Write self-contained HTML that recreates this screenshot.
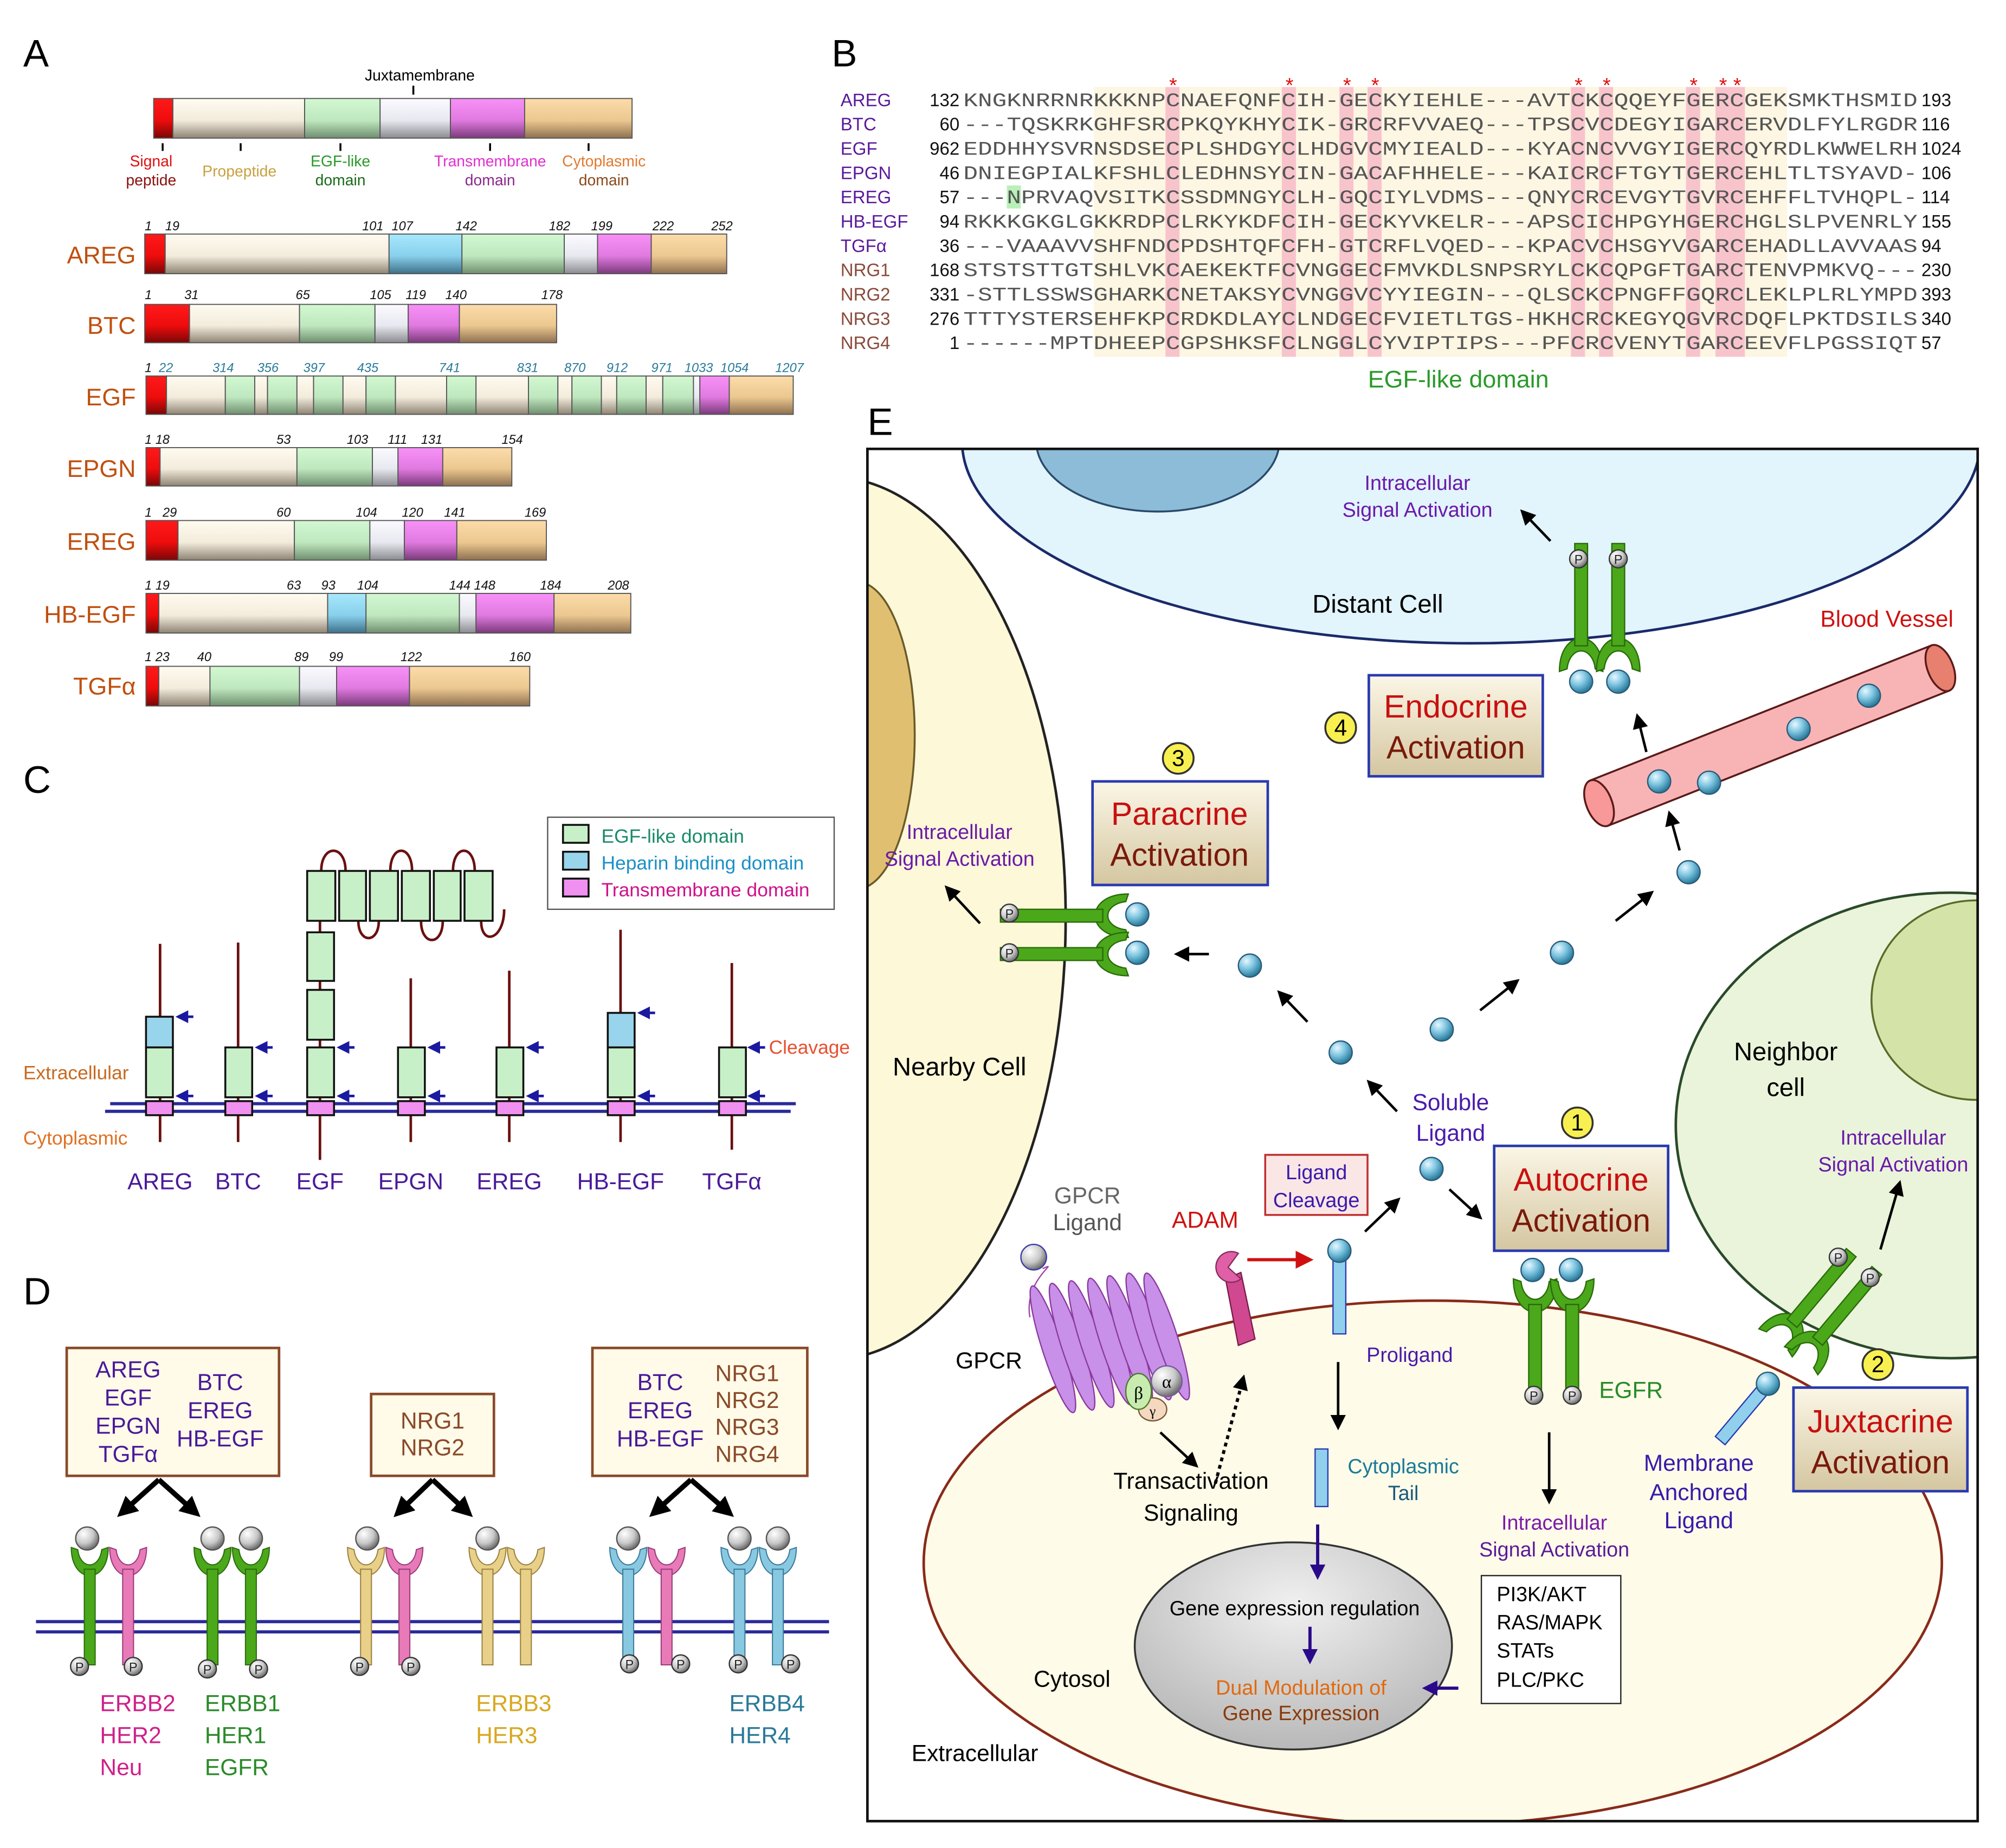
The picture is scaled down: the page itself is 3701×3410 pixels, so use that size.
<!DOCTYPE html>
<html><head><meta charset="utf-8"><style>html,body{margin:0;padding:0;background:#fff}svg{display:block}</style></head>
<body>
<svg xmlns="http://www.w3.org/2000/svg" width="3701" height="3410" viewBox="0 0 1568 1445" font-family="Liberation Sans, Arial, sans-serif">
<defs>
<linearGradient id="gR" x1="0" y1="0" x2="0" y2="1"><stop offset="0" stop-color="#ff1a1a"/><stop offset=".55" stop-color="#ee0c0c"/><stop offset="1" stop-color="#7a0606"/></linearGradient>
<linearGradient id="gP" x1="0" y1="0" x2="0" y2="1"><stop offset="0" stop-color="#fffbf0"/><stop offset=".55" stop-color="#f3ecdc"/><stop offset="1" stop-color="#8e8474"/></linearGradient>
<linearGradient id="gG" x1="0" y1="0" x2="0" y2="1"><stop offset="0" stop-color="#d2f8d2"/><stop offset=".55" stop-color="#bfe8bf"/><stop offset="1" stop-color="#6f8e6f"/></linearGradient>
<linearGradient id="gW" x1="0" y1="0" x2="0" y2="1"><stop offset="0" stop-color="#fafaff"/><stop offset=".55" stop-color="#e8e8f0"/><stop offset="1" stop-color="#8a8a90"/></linearGradient>
<linearGradient id="gM" x1="0" y1="0" x2="0" y2="1"><stop offset="0" stop-color="#f890f8"/><stop offset=".55" stop-color="#e07ae0"/><stop offset="1" stop-color="#7a3a7a"/></linearGradient>
<linearGradient id="gT" x1="0" y1="0" x2="0" y2="1"><stop offset="0" stop-color="#fcdcaa"/><stop offset=".55" stop-color="#ecc890"/><stop offset="1" stop-color="#8e7050"/></linearGradient>
<linearGradient id="gB" x1="0" y1="0" x2="0" y2="1"><stop offset="0" stop-color="#a8e8fc"/><stop offset=".55" stop-color="#88d0ec"/><stop offset="1" stop-color="#3e7088"/></linearGradient>
<linearGradient id="gBox" x1="0" y1="0" x2="0" y2="1"><stop offset="0" stop-color="#fbf6e6"/><stop offset="1" stop-color="#d4c6a0"/></linearGradient>
<radialGradient id="gBall" cx=".35" cy=".3" r=".7"><stop offset="0" stop-color="#e8f8ff"/><stop offset=".5" stop-color="#7cc4e0"/><stop offset="1" stop-color="#2a7a9a"/></radialGradient>
<radialGradient id="gGray" cx=".35" cy=".3" r=".7"><stop offset="0" stop-color="#ffffff"/><stop offset=".6" stop-color="#c8c8c8"/><stop offset="1" stop-color="#707070"/></radialGradient>
<radialGradient id="gNuc" cx=".5" cy=".3" r=".7"><stop offset="0" stop-color="#f0f0f0"/><stop offset="1" stop-color="#b8b8b8"/></radialGradient>
<marker id="ak" viewBox="0 0 10 10" refX="8" refY="5" markerWidth="12" markerHeight="12" markerUnits="userSpaceOnUse" orient="auto"><path d="M0,0 L10,5 L0,10 Z" fill="#000"/></marker>
<marker id="ab" viewBox="0 0 10 10" refX="8" refY="5" markerWidth="10" markerHeight="10" markerUnits="userSpaceOnUse" orient="auto"><path d="M0,0 L10,5 L0,10 Z" fill="#1a1aa0"/></marker>
<marker id="an" viewBox="0 0 10 10" refX="8" refY="5" markerWidth="12" markerHeight="12" markerUnits="userSpaceOnUse" orient="auto"><path d="M0,0 L10,5 L0,10 Z" fill="#2a0a8a"/></marker>
<marker id="ar" viewBox="0 0 10 10" refX="8" refY="5" markerWidth="14" markerHeight="14" markerUnits="userSpaceOnUse" orient="auto"><path d="M0,0 L10,5 L0,10 Z" fill="#d01010"/></marker>
<marker id="aD" viewBox="0 0 10 10" refX="7" refY="5" markerWidth="16" markerHeight="16" markerUnits="userSpaceOnUse" orient="auto"><path d="M0,0 L10,5 L0,10 Z" fill="#000"/></marker>
<g id="cupG"><path d="M-17,0 C-17,18 -8,26 0,26 C8,26 17,18 17,0 L11,2 C10,11 5,16 0,16 C-5,16 -10,11 -11,2 Z" fill="#4aa81a" stroke="#2a6a0a" stroke-width="1"/></g>
<g id="P"><circle r="7" fill="url(#gGray)" stroke="#333" stroke-width="1"/><text y="4" text-anchor="middle" font-size="10" fill="#222">P</text></g>
</defs>

<rect width="1568" height="1445" fill="#fff"/>

<!-- ===== Panel A ===== -->
<text x="18" y="52" font-size="30">A</text>
<text x="328" y="63" font-size="12" text-anchor="middle">Juxtamembrane</text>
<line x1="323" y1="67" x2="323" y2="74" stroke="#000" stroke-width="1.5"/>
<g stroke="#555" stroke-width="0.8">
<rect x="120" y="77" width="15" height="31" fill="url(#gR)"/><rect x="135" y="77" width="103" height="31" fill="url(#gP)"/><rect x="238" y="77" width="59" height="31" fill="url(#gG)"/><rect x="297" y="77" width="55" height="31" fill="url(#gW)"/><rect x="352" y="77" width="58" height="31" fill="url(#gM)"/><rect x="410" y="77" width="84" height="31" fill="url(#gT)"/>
</g>
<g stroke="#000" stroke-width="1.5"><line x1="127" y1="112" x2="127" y2="118"/><line x1="188" y1="112" x2="188" y2="118"/><line x1="266" y1="112" x2="266" y2="118"/><line x1="383" y1="112" x2="383" y2="118"/><line x1="460" y1="112" x2="460" y2="118"/></g>
<g font-size="12" text-anchor="middle">
<text x="118" y="130" fill="#e01010">Signal</text><text x="118" y="145" fill="#8a1010">peptide</text>
<text x="187" y="138" fill="#c8a040">Propeptide</text>
<text x="266" y="130" fill="#2a9a2a">EGF-like</text><text x="266" y="145" fill="#1a6a1a">domain</text>
<text x="383" y="130" fill="#e030d0">Transmembrane</text><text x="383" y="145" fill="#8a2a8a">domain</text>
<text x="472" y="130" fill="#e07a30">Cytoplasmic</text><text x="472" y="145" fill="#8a4a1a">domain</text>
</g>
<g font-size="19" fill="#c0500f" text-anchor="end">
<text x="106" y="206">AREG</text><text x="106" y="261">BTC</text><text x="106" y="317">EGF</text><text x="106" y="373">EPGN</text><text x="106" y="430">EREG</text><text x="106" y="487">HB-EGF</text><text x="106" y="543">TGFα</text>
</g>
<g stroke="#555" stroke-width="0.8">
<!-- AREG -->
<rect x="113" y="183" width="16" height="31" fill="url(#gR)"/><rect x="129" y="183" width="175" height="31" fill="url(#gP)"/><rect x="304" y="183" width="57" height="31" fill="url(#gB)"/><rect x="361" y="183" width="80" height="31" fill="url(#gG)"/><rect x="441" y="183" width="26" height="31" fill="url(#gW)"/><rect x="467" y="183" width="42" height="31" fill="url(#gM)"/><rect x="509" y="183" width="59" height="31" fill="url(#gT)"/>
<!-- BTC -->
<rect x="113" y="238" width="35" height="30" fill="url(#gR)"/><rect x="148" y="238" width="86" height="30" fill="url(#gP)"/><rect x="234" y="238" width="59" height="30" fill="url(#gG)"/><rect x="293" y="238" width="26" height="30" fill="url(#gW)"/><rect x="319" y="238" width="40" height="30" fill="url(#gM)"/><rect x="359" y="238" width="76" height="30" fill="url(#gT)"/>
<!-- EGF -->
<rect x="114" y="294" width="16" height="30" fill="url(#gR)"/>
<rect x="130" y="294" width="46" height="30" fill="url(#gP)"/><rect x="176" y="294" width="23" height="30" fill="url(#gG)"/><rect x="199" y="294" width="10" height="30" fill="url(#gP)"/><rect x="209" y="294" width="23" height="30" fill="url(#gG)"/><rect x="232" y="294" width="13" height="30" fill="url(#gP)"/><rect x="245" y="294" width="23" height="30" fill="url(#gG)"/><rect x="268" y="294" width="18" height="30" fill="url(#gP)"/><rect x="286" y="294" width="23" height="30" fill="url(#gG)"/><rect x="309" y="294" width="40" height="30" fill="url(#gP)"/><rect x="349" y="294" width="23" height="30" fill="url(#gG)"/><rect x="372" y="294" width="41" height="30" fill="url(#gP)"/><rect x="413" y="294" width="23" height="30" fill="url(#gG)"/><rect x="436" y="294" width="11" height="30" fill="url(#gP)"/><rect x="447" y="294" width="23" height="30" fill="url(#gG)"/><rect x="470" y="294" width="12" height="30" fill="url(#gP)"/><rect x="482" y="294" width="23" height="30" fill="url(#gG)"/><rect x="505" y="294" width="13" height="30" fill="url(#gP)"/><rect x="518" y="294" width="24" height="30" fill="url(#gG)"/><rect x="542" y="294" width="5" height="30" fill="url(#gW)"/><rect x="547" y="294" width="23" height="30" fill="url(#gM)"/><rect x="570" y="294" width="50" height="30" fill="url(#gT)"/>
<!-- EPGN -->
<rect x="114" y="350" width="11" height="30" fill="url(#gR)"/><rect x="125" y="350" width="107" height="30" fill="url(#gP)"/><rect x="232" y="350" width="59" height="30" fill="url(#gG)"/><rect x="291" y="350" width="20" height="30" fill="url(#gW)"/><rect x="311" y="350" width="35" height="30" fill="url(#gM)"/><rect x="346" y="350" width="54" height="30" fill="url(#gT)"/>
<!-- EREG -->
<rect x="114" y="407" width="25" height="31" fill="url(#gR)"/><rect x="139" y="407" width="91" height="31" fill="url(#gP)"/><rect x="230" y="407" width="59" height="31" fill="url(#gG)"/><rect x="289" y="407" width="27" height="31" fill="url(#gW)"/><rect x="316" y="407" width="41" height="31" fill="url(#gM)"/><rect x="357" y="407" width="70" height="31" fill="url(#gT)"/>
<!-- HB-EGF -->
<rect x="114" y="464" width="10" height="31" fill="url(#gR)"/><rect x="124" y="464" width="132" height="31" fill="url(#gP)"/><rect x="256" y="464" width="30" height="31" fill="url(#gB)"/><rect x="286" y="464" width="73" height="31" fill="url(#gG)"/><rect x="359" y="464" width="13" height="31" fill="url(#gW)"/><rect x="372" y="464" width="61" height="31" fill="url(#gM)"/><rect x="433" y="464" width="60" height="31" fill="url(#gT)"/>
<!-- TGFa -->
<rect x="114" y="521" width="10" height="31" fill="url(#gR)"/><rect x="124" y="521" width="40" height="31" fill="url(#gP)"/><rect x="164" y="521" width="70" height="31" fill="url(#gG)"/><rect x="234" y="521" width="29" height="31" fill="url(#gW)"/><rect x="263" y="521" width="57" height="31" fill="url(#gM)"/><rect x="320" y="521" width="94" height="31" fill="url(#gT)"/>
</g>
<g font-size="10" font-style="italic" fill="#111">
<text x="113" y="180">1</text><text x="129" y="180">19</text><text x="283" y="180">101</text><text x="306" y="180">107</text><text x="356" y="180">142</text><text x="429" y="180">182</text><text x="462" y="180">199</text><text x="510" y="180">222</text><text x="556" y="180">252</text>
<text x="113" y="234">1</text><text x="144" y="234">31</text><text x="231" y="234">65</text><text x="289" y="234">105</text><text x="317" y="234">119</text><text x="348" y="234">140</text><text x="423" y="234">178</text>
<g fill="#2a7a9a"><text x="113" y="291" fill="#111">1</text><text x="124" y="291">22</text><text x="166" y="291">314</text><text x="201" y="291">356</text><text x="237" y="291">397</text><text x="279" y="291">435</text><text x="343" y="291">741</text><text x="404" y="291">831</text><text x="441" y="291">870</text><text x="474" y="291">912</text><text x="509" y="291">971</text><text x="535" y="291">1033</text><text x="563" y="291">1054</text><text x="606" y="291">1207</text></g>
<text x="113" y="347">1 18</text><text x="216" y="347">53</text><text x="271" y="347">103</text><text x="303" y="347">111</text><text x="329" y="347">131</text><text x="392" y="347">154</text>
<text x="113" y="404">1</text><text x="127" y="404">29</text><text x="216" y="404">60</text><text x="278" y="404">104</text><text x="314" y="404">120</text><text x="347" y="404">141</text><text x="410" y="404">169</text>
<text x="113" y="461">1 19</text><text x="224" y="461">63</text><text x="251" y="461">93</text><text x="279" y="461">104</text><text x="351" y="461">144 148</text><text x="422" y="461">184</text><text x="475" y="461">208</text>
<text x="113" y="517">1 23</text><text x="154" y="517">40</text><text x="230" y="517">89</text><text x="257" y="517">99</text><text x="313" y="517">122</text><text x="398" y="517">160</text>
</g>

<!-- ===== Panel B ===== -->
<text x="650" y="52" font-size="30">B</text>
<rect x="855" y="68" width="542" height="211" fill="#fcf6e2"/>
<g fill="#f8c4cc">
<rect x="911" y="68" width="11" height="211"/><rect x="1002" y="68" width="11" height="211"/><rect x="1047" y="68" width="11" height="211"/><rect x="1069" y="68" width="11" height="211"/><rect x="1228" y="68" width="11" height="211"/><rect x="1250" y="68" width="11" height="211"/><rect x="1318" y="68" width="11" height="211"/><rect x="1341" y="68" width="23" height="211"/>
</g>
<rect x="787" y="145" width="11" height="18" fill="#b8f0b8"/>
<g fill="#e01010" font-size="16" text-anchor="middle">
<text x="917" y="72">*</text><text x="1008" y="72">*</text><text x="1053" y="72">*</text><text x="1075" y="72">*</text><text x="1234" y="72">*</text><text x="1256" y="72">*</text><text x="1324" y="72">*</text><text x="1347" y="72">*</text><text x="1358" y="72">*</text>
</g>
<g font-size="14">
<g fill="#5a1a9a"><text x="657" y="83">AREG</text><text x="657" y="102">BTC</text><text x="657" y="121">EGF</text><text x="657" y="140">EPGN</text><text x="657" y="159">EREG</text><text x="657" y="178">HB-EGF</text><text x="657" y="197">TGFα</text></g>
<g fill="#8a4a3a"><text x="657" y="216">NRG1</text><text x="657" y="235">NRG2</text><text x="657" y="254">NRG3</text><text x="657" y="273">NRG4</text></g>
<g text-anchor="end" fill="#111"><text x="750" y="83">132</text><text x="750" y="102">60</text><text x="750" y="121">962</text><text x="750" y="140">46</text><text x="750" y="159">57</text><text x="750" y="178">94</text><text x="750" y="197">36</text><text x="750" y="216">168</text><text x="750" y="235">331</text><text x="750" y="254">276</text><text x="750" y="273">1</text></g>
<g fill="#111"><text x="1502" y="83">193</text><text x="1502" y="102">116</text><text x="1502" y="121">1024</text><text x="1502" y="140">106</text><text x="1502" y="159">114</text><text x="1502" y="178">155</text><text x="1502" y="197">94</text><text x="1502" y="216">230</text><text x="1502" y="235">393</text><text x="1502" y="254">340</text><text x="1502" y="273">57</text></g>
</g>
<g font-family="Liberation Mono, monospace" font-size="15" fill="#555">
<text x="753" y="83" textLength="746" lengthAdjust="spacingAndGlyphs">KNGKNRRNRKKKNPCNAEFQNFCIH-GECKYIEHLE---AVTCKCQQEYFGERCGEKSMKTHSMID</text>
<text x="753" y="102" textLength="746" lengthAdjust="spacingAndGlyphs">---TQSKRKGHFSRCPKQYKHYCIK-GRCRFVVAEQ---TPSCVCDEGYIGARCERVDLFYLRGDR</text>
<text x="753" y="121" textLength="746" lengthAdjust="spacingAndGlyphs">EDDHHYSVRNSDSECPLSHDGYCLHDGVCMYIEALD---KYACNCVVGYIGERCQYRDLKWWELRH</text>
<text x="753" y="140" textLength="746" lengthAdjust="spacingAndGlyphs">DNIEGPIALKFSHLCLEDHNSYCIN-GACAFHHELE---KAICRCFTGYTGERCEHLTLTSYAVD-</text>
<text x="753" y="159" textLength="746" lengthAdjust="spacingAndGlyphs">---NPRVAQVSITKCSSDMNGYCLH-GQCIYLVDMS---QNYCRCEVGYTGVRCEHFFLTVHQPL-</text>
<text x="753" y="178" textLength="746" lengthAdjust="spacingAndGlyphs">RKKKGKGLGKKRDPCLRKYKDFCIH-GECKYVKELR---APSCICHPGYHGERCHGLSLPVENRLY</text>
<text x="753" y="197" textLength="746" lengthAdjust="spacingAndGlyphs">---VAAAVVSHFNDCPDSHTQFCFH-GTCRFLVQED---KPACVCHSGYVGARCEHADLLAVVAAS</text>
<text x="753" y="216" textLength="746" lengthAdjust="spacingAndGlyphs">STSTSTTGTSHLVKCAEKEKTFCVNGGECFMVKDLSNPSRYLCKCQPGFTGARCTENVPMKVQ---</text>
<text x="753" y="235" textLength="746" lengthAdjust="spacingAndGlyphs">-STTLSSWSGHARKCNETAKSYCVNGGVCYYIEGIN---QLSCKCPNGFFGQRCLEKLPLRLYMPD</text>
<text x="753" y="254" textLength="746" lengthAdjust="spacingAndGlyphs">TTTYSTERSEHFKPCRDKDLAYCLNDGECFVIETLTGS-HKHCRCKEGYQGVRCDQFLPKTDSILS</text>
<text x="753" y="273" textLength="746" lengthAdjust="spacingAndGlyphs">------MPTDHEEPCGPSHKSFCLNGGLCYVIPTIPS---PFCRCVENYTGARCEEVFLPGSSIQT</text>
</g>
<text x="1140" y="303" font-size="19" fill="#2a9a2a" text-anchor="middle">EGF-like domain</text>

<!-- ===== Panel C ===== -->
<text x="18" y="620" font-size="30">C</text>
<rect x="428" y="639" width="224" height="72" fill="#fff" stroke="#555" stroke-width="1"/>
<rect x="440" y="645" width="20" height="14" fill="#c8f0c8" stroke="#111" stroke-width="1.5"/>
<rect x="440" y="666" width="20" height="14" fill="#98d4ec" stroke="#111" stroke-width="1.5"/>
<rect x="440" y="687" width="20" height="14" fill="#f090f0" stroke="#111" stroke-width="1.5"/>
<text x="470" y="659" font-size="15" fill="#1a8a6a">EGF-like domain</text>
<text x="470" y="680" font-size="15" fill="#1a90c8">Heparin binding domain</text>
<text x="470" y="701" font-size="15" fill="#d0108a">Transmembrane domain</text>
<g stroke="#6a1010" stroke-width="2" fill="none">
<line x1="125" y1="738" x2="125" y2="893"/><line x1="186" y1="737" x2="186" y2="893"/><line x1="250" y1="720" x2="250" y2="907"/><line x1="321" y1="765" x2="321" y2="893"/><line x1="398" y1="759" x2="398" y2="893"/><line x1="485" y1="727" x2="485" y2="893"/><line x1="572" y1="753" x2="572" y2="899"/>
<path d="M251,681 C251,660 270,660 270,681"/><path d="M305,681 C305,660 322,660 322,681"/><path d="M354,681 C354,660 371,660 371,681"/>
<path d="M280,720 C280,738 296,738 296,720"/><path d="M329,720 C329,740 346,740 346,720"/><path d="M376,720 C376,740 394,735 394,711"/>
</g>
<g stroke="#2a2a9a" stroke-width="2.5"><line x1="86" y1="863" x2="622" y2="863"/><line x1="82" y1="869" x2="618" y2="869"/></g>
<g stroke="#111" stroke-width="1.5">
<rect x="114" y="795" width="21" height="24" fill="#98d4ec"/><rect x="114" y="819" width="21" height="39" fill="#c8f0c8"/>
<rect x="176" y="819" width="21" height="39" fill="#c8f0c8"/>
<rect x="240" y="819" width="21" height="39" fill="#c8f0c8"/><rect x="240" y="774" width="21" height="39" fill="#c8f0c8"/><rect x="240" y="729" width="21" height="38" fill="#c8f0c8"/>
<rect x="240" y="681" width="22" height="39" fill="#c8f0c8"/><rect x="265" y="681" width="21" height="39" fill="#c8f0c8"/><rect x="289" y="681" width="22" height="39" fill="#c8f0c8"/><rect x="314" y="681" width="22" height="39" fill="#c8f0c8"/><rect x="339" y="681" width="21" height="39" fill="#c8f0c8"/><rect x="363" y="681" width="22" height="39" fill="#c8f0c8"/>
<rect x="311" y="819" width="21" height="39" fill="#c8f0c8"/>
<rect x="388" y="819" width="21" height="39" fill="#c8f0c8"/>
<rect x="475" y="792" width="21" height="27" fill="#98d4ec"/><rect x="475" y="819" width="21" height="39" fill="#c8f0c8"/>
<rect x="562" y="819" width="21" height="39" fill="#c8f0c8"/>
<g fill="#f090f0"><rect x="114" y="861" width="21" height="11"/><rect x="176" y="861" width="21" height="11"/><rect x="240" y="861" width="21" height="11"/><rect x="311" y="861" width="21" height="11"/><rect x="388" y="861" width="21" height="11"/><rect x="475" y="861" width="21" height="11"/><rect x="562" y="861" width="21" height="11"/></g>
</g>
<g stroke="#1a1aa0" stroke-width="2" marker-end="url(#ab)">
<line x1="151" y1="795" x2="139" y2="795"/><line x1="151" y1="857" x2="139" y2="857"/>
<line x1="213" y1="819" x2="201" y2="819"/><line x1="213" y1="857" x2="201" y2="857"/>
<line x1="277" y1="819" x2="265" y2="819"/><line x1="277" y1="857" x2="265" y2="857"/>
<line x1="348" y1="819" x2="336" y2="819"/><line x1="348" y1="857" x2="336" y2="857"/>
<line x1="425" y1="819" x2="413" y2="819"/><line x1="425" y1="857" x2="413" y2="857"/>
<line x1="512" y1="792" x2="500" y2="792"/><line x1="512" y1="857" x2="500" y2="857"/>
<line x1="598" y1="819" x2="586" y2="819"/><line x1="598" y1="857" x2="586" y2="857"/>
</g>
<text x="601" y="824" font-size="15" fill="#e85030">Cleavage</text>
<text x="18" y="844" font-size="15" fill="#c86a20">Extracellular</text>
<text x="18" y="895" font-size="15" fill="#e07020">Cytoplasmic</text>
<g font-size="18" fill="#4a1a9a" text-anchor="middle">
<text x="125" y="930">AREG</text><text x="186" y="930">BTC</text><text x="250" y="930">EGF</text><text x="321" y="930">EPGN</text><text x="398" y="930">EREG</text><text x="485" y="930">HB-EGF</text><text x="572" y="930">TGFα</text>
</g>

<!-- ===== Panel D ===== -->
<text x="18" y="1020" font-size="30">D</text>
<g fill="#fffbe8" stroke="#8a4a2a" stroke-width="2">
<rect x="52" y="1054" width="166" height="100"/><rect x="290" y="1090" width="96" height="64"/><rect x="463" y="1054" width="168" height="100"/>
</g>
<g font-size="18" text-anchor="middle">
<g fill="#4a1a9a"><text x="100" y="1077">AREG</text><text x="100" y="1099">EGF</text><text x="100" y="1121">EPGN</text><text x="100" y="1143">TGFα</text>
<text x="172" y="1087">BTC</text><text x="172" y="1109">EREG</text><text x="172" y="1131">HB-EGF</text>
<text x="516" y="1087">BTC</text><text x="516" y="1109">EREG</text><text x="516" y="1131">HB-EGF</text></g>
<g fill="#8a4a2a"><text x="338" y="1117">NRG1</text><text x="338" y="1138">NRG2</text>
<text x="584" y="1080">NRG1</text><text x="584" y="1101">NRG2</text><text x="584" y="1122">NRG3</text><text x="584" y="1143">NRG4</text></g>
</g>
<g stroke="#000" stroke-width="4" marker-end="url(#aD)" fill="none">
<path d="M124,1157 L95,1183"/><path d="M124,1157 L153,1183"/>
<path d="M338,1157 L311,1183"/><path d="M338,1157 L366,1183"/>
<path d="M540,1157 L511,1183"/><path d="M540,1157 L570,1183"/>
</g>
<g stroke="#2a2a9a" stroke-width="2.5"><line x1="28" y1="1268" x2="648" y2="1268"/><line x1="28" y1="1276" x2="648" y2="1276"/></g>
<!-- receptors D -->
<g stroke-width="1">
<g transform="translate(70,1210) scale(0.85)"><path d="M-17,0 C-17,18 -8,26 0,26 C8,26 17,18 17,0 L11,2 C10,11 5,16 0,16 C-5,16 -10,11 -11,2 Z" fill="#4aa81a" stroke="#2a6a0a"/><rect x="-5" y="20" width="10" height="88" fill="#4aa81a" stroke="#2a6a0a"/></g>
<g transform="translate(100,1210) scale(0.85)"><path d="M-17,0 C-17,18 -8,26 0,26 C8,26 17,18 17,0 L11,2 C10,11 5,16 0,16 C-5,16 -10,11 -11,2 Z" fill="#e87ab8" stroke="#9a3a7a"/><rect x="-5" y="20" width="10" height="88" fill="#e87ab8" stroke="#9a3a7a"/></g>
<g transform="translate(166,1210) scale(0.85)"><path d="M-17,0 C-17,18 -8,26 0,26 C8,26 17,18 17,0 L11,2 C10,11 5,16 0,16 C-5,16 -10,11 -11,2 Z" fill="#4aa81a" stroke="#2a6a0a"/><rect x="-5" y="20" width="10" height="88" fill="#4aa81a" stroke="#2a6a0a"/></g>
<g transform="translate(196,1210) scale(0.85)"><path d="M-17,0 C-17,18 -8,26 0,26 C8,26 17,18 17,0 L11,2 C10,11 5,16 0,16 C-5,16 -10,11 -11,2 Z" fill="#4aa81a" stroke="#2a6a0a"/><rect x="-5" y="20" width="10" height="88" fill="#4aa81a" stroke="#2a6a0a"/></g>
<g transform="translate(286,1210) scale(0.85)"><path d="M-17,0 C-17,18 -8,26 0,26 C8,26 17,18 17,0 L11,2 C10,11 5,16 0,16 C-5,16 -10,11 -11,2 Z" fill="#e8d088" stroke="#9a8040"/><rect x="-5" y="20" width="10" height="88" fill="#e8d088" stroke="#9a8040"/></g>
<g transform="translate(316,1210) scale(0.85)"><path d="M-17,0 C-17,18 -8,26 0,26 C8,26 17,18 17,0 L11,2 C10,11 5,16 0,16 C-5,16 -10,11 -11,2 Z" fill="#e87ab8" stroke="#9a3a7a"/><rect x="-5" y="20" width="10" height="88" fill="#e87ab8" stroke="#9a3a7a"/></g>
<g transform="translate(381,1210) scale(0.85)"><path d="M-17,0 C-17,18 -8,26 0,26 C8,26 17,18 17,0 L11,2 C10,11 5,16 0,16 C-5,16 -10,11 -11,2 Z" fill="#e8d088" stroke="#9a8040"/><rect x="-5" y="20" width="10" height="88" fill="#e8d088" stroke="#9a8040"/></g>
<g transform="translate(411,1210) scale(0.85)"><path d="M-17,0 C-17,18 -8,26 0,26 C8,26 17,18 17,0 L11,2 C10,11 5,16 0,16 C-5,16 -10,11 -11,2 Z" fill="#e8d088" stroke="#9a8040"/><rect x="-5" y="20" width="10" height="88" fill="#e8d088" stroke="#9a8040"/></g>
<g transform="translate(491,1210) scale(0.85)"><path d="M-17,0 C-17,18 -8,26 0,26 C8,26 17,18 17,0 L11,2 C10,11 5,16 0,16 C-5,16 -10,11 -11,2 Z" fill="#88c8e0" stroke="#3a7a9a"/><rect x="-5" y="20" width="10" height="88" fill="#88c8e0" stroke="#3a7a9a"/></g>
<g transform="translate(521,1210) scale(0.85)"><path d="M-17,0 C-17,18 -8,26 0,26 C8,26 17,18 17,0 L11,2 C10,11 5,16 0,16 C-5,16 -10,11 -11,2 Z" fill="#e87ab8" stroke="#9a3a7a"/><rect x="-5" y="20" width="10" height="88" fill="#e87ab8" stroke="#9a3a7a"/></g>
<g transform="translate(578,1210) scale(0.85)"><path d="M-17,0 C-17,18 -8,26 0,26 C8,26 17,18 17,0 L11,2 C10,11 5,16 0,16 C-5,16 -10,11 -11,2 Z" fill="#88c8e0" stroke="#3a7a9a"/><rect x="-5" y="20" width="10" height="88" fill="#88c8e0" stroke="#3a7a9a"/></g>
<g transform="translate(608,1210) scale(0.85)"><path d="M-17,0 C-17,18 -8,26 0,26 C8,26 17,18 17,0 L11,2 C10,11 5,16 0,16 C-5,16 -10,11 -11,2 Z" fill="#88c8e0" stroke="#3a7a9a"/><rect x="-5" y="20" width="10" height="88" fill="#88c8e0" stroke="#3a7a9a"/></g>
</g>
<g fill="url(#gGray)" stroke="#555" stroke-width="1">
<circle cx="68" cy="1203" r="9"/><circle cx="166" cy="1203" r="9"/><circle cx="196" cy="1203" r="9"/><circle cx="287" cy="1203" r="9"/><circle cx="381" cy="1203" r="9"/><circle cx="491" cy="1203" r="9"/><circle cx="578" cy="1203" r="9"/><circle cx="608" cy="1203" r="9"/>
</g>
<use href="#P" x="62" y="1303"/><use href="#P" x="104" y="1303"/><use href="#P" x="162" y="1305"/><use href="#P" x="202" y="1305"/><use href="#P" x="281" y="1303"/><use href="#P" x="321" y="1303"/><use href="#P" x="492" y="1301"/><use href="#P" x="532" y="1301"/><use href="#P" x="577" y="1301"/><use href="#P" x="618" y="1301"/>
<g font-size="18">
<g fill="#d0208a"><text x="78" y="1338">ERBB2</text><text x="78" y="1363">HER2</text><text x="78" y="1388">Neu</text></g>
<g fill="#2a8a2a"><text x="160" y="1338">ERBB1</text><text x="160" y="1363">HER1</text><text x="160" y="1388">EGFR</text></g>
<g fill="#d8a820"><text x="372" y="1338">ERBB3</text><text x="372" y="1363">HER3</text></g>
<g fill="#2a7a9a"><text x="570" y="1338">ERBB4</text><text x="570" y="1363">HER4</text></g>
</g>

<!-- ===== Panel E ===== -->
<text x="678" y="340" font-size="30">E</text>
<clipPath id="clipE"><rect x="678" y="351" width="868" height="1073"/></clipPath>
<g clip-path="url(#clipE)">
<ellipse cx="1150" cy="345" rx="398" ry="158" fill="#e2f4fc" stroke="#1a2a6a" stroke-width="2"/>
<ellipse cx="905" cy="345" rx="95" ry="55" fill="#8cbcd8" stroke="#2a4a6a" stroke-width="1.5"/>
<ellipse cx="650" cy="718" rx="183" ry="345" fill="#fdf8d8" stroke="#222" stroke-width="2"/>
<ellipse cx="670" cy="575" rx="45" ry="120" fill="#e0c070" stroke="#6a5a2a" stroke-width="1.5"/>
<ellipse cx="1525" cy="880" rx="215" ry="182" fill="#eaf4da" stroke="#2a4a2a" stroke-width="2"/>
<ellipse cx="1545" cy="782" rx="82" ry="78" fill="#d4e4a8" stroke="#5a6a2a" stroke-width="1.5"/>
<ellipse cx="1120" cy="1222" rx="398" ry="205" fill="#fefbe8" stroke="#8a2a1a" stroke-width="2"/>
<ellipse cx="1011" cy="1287" rx="124" ry="81" fill="url(#gNuc)" stroke="#333" stroke-width="1.5"/>
</g>
<rect x="678" y="351" width="868" height="1073" fill="none" stroke="#111" stroke-width="2"/>

<!-- distant cell -->
<text x="1077" y="479" font-size="20" text-anchor="middle">Distant Cell</text>
<text x="1108" y="383" font-size="16" fill="#6a1aaa" text-anchor="middle">Intracellular</text>
<text x="1108" y="404" font-size="16" fill="#6a1aaa" text-anchor="middle">Signal Activation</text>
<line x1="1212" y1="423" x2="1190" y2="400" stroke="#000" stroke-width="2" marker-end="url(#ak)"/>
<g transform="translate(1236,525) scale(1,-1)"><use href="#cupG"/><rect x="-5" y="20" width="10" height="80" fill="#4aa81a" stroke="#2a6a0a"/></g>
<g transform="translate(1265,525) scale(1,-1)"><use href="#cupG"/><rect x="-5" y="20" width="10" height="80" fill="#4aa81a" stroke="#2a6a0a"/></g>
<use href="#P" x="1234" y="437"/><use href="#P" x="1265" y="437"/>
<circle cx="1236" cy="533" r="9" fill="url(#gBall)" stroke="#2a5a7a"/><circle cx="1265" cy="533" r="9" fill="url(#gBall)" stroke="#2a5a7a"/>

<!-- blood vessel -->
<text x="1475" y="490" font-size="18" fill="#d01010" text-anchor="middle">Blood Vessel</text>
<g transform="translate(1250,628) rotate(-21.6)">
<rect x="0" y="-19" width="287" height="38" fill="#f8b4b4" stroke="#5a1a1a" stroke-width="1.5"/>
<ellipse cx="0" cy="0" rx="10" ry="19" fill="#f89898" stroke="#5a1a1a" stroke-width="1.5"/>
<ellipse cx="287" cy="0" rx="10" ry="19" fill="#e88070" stroke="#5a1a1a" stroke-width="1.5"/>
</g>
<g fill="url(#gBall)" stroke="#2a5a7a" stroke-width="1">
<circle cx="1297" cy="611" r="9"/><circle cx="1336" cy="612" r="9"/><circle cx="1406" cy="570" r="9"/><circle cx="1461" cy="544" r="9"/>
<circle cx="977" cy="755" r="9"/><circle cx="1048" cy="823" r="9"/><circle cx="1127" cy="805" r="9"/><circle cx="1221" cy="745" r="9"/><circle cx="1320" cy="682" r="9"/><circle cx="1119" cy="914" r="9"/>
</g>

<!-- numbered circles & boxes -->
<g stroke="#333" stroke-width="1.5" fill="#f8f050">
<circle cx="1048" cy="569" r="12"/><circle cx="921" cy="593" r="12"/><circle cx="1233" cy="878" r="12"/><circle cx="1468" cy="1067" r="12"/>
</g>
<g font-size="18" text-anchor="middle"><text x="1048" y="575">4</text><text x="921" y="599">3</text><text x="1233" y="884">1</text><text x="1468" y="1073">2</text></g>
<g fill="url(#gBox)" stroke="#2a3ab0" stroke-width="2">
<rect x="1070" y="528" width="136" height="79"/><rect x="854" y="611" width="137" height="81"/><rect x="1168" y="896" width="136" height="82"/><rect x="1402" y="1085" width="136" height="81"/>
</g>
<g font-size="25" text-anchor="middle">
<text x="1138" y="561" fill="#c81010">Endocrine</text><text x="1138" y="593" fill="#7a1a0a">Activation</text>
<text x="922" y="645" fill="#c81010">Paracrine</text><text x="922" y="677" fill="#7a1a0a">Activation</text>
<text x="1236" y="931" fill="#c81010">Autocrine</text><text x="1236" y="963" fill="#7a1a0a">Activation</text>
<text x="1470" y="1120" fill="#c81010">Juxtacrine</text><text x="1470" y="1152" fill="#7a1a0a">Activation</text>
</g>

<!-- arrows -->
<g stroke="#000" stroke-width="2" marker-end="url(#ak)">
<line x1="1287" y1="588" x2="1280" y2="560"/><line x1="1313" y1="665" x2="1305" y2="636"/><line x1="1263" y1="720" x2="1291" y2="698"/>
<line x1="1157" y1="790" x2="1186" y2="767"/><line x1="1022" y1="799" x2="1000" y2="776"/><line x1="1092" y1="869" x2="1070" y2="846"/>
<line x1="945" y1="746" x2="920" y2="746"/><line x1="766" y1="722" x2="740" y2="694"/>
<line x1="1133" y1="930" x2="1157" y2="952"/><line x1="1067" y1="963" x2="1093" y2="938"/>
<line x1="1046" y1="1065" x2="1046" y2="1116"/><line x1="1211" y1="1120" x2="1211" y2="1174"/>
<line x1="907" y1="1120" x2="935" y2="1146"/><line x1="1470" y1="977" x2="1485" y2="925"/>
</g>
<line x1="950" y1="1160" x2="972" y2="1077" stroke="#000" stroke-width="2.5" stroke-dasharray="3,3" marker-end="url(#ak)"/>
<line x1="975" y1="985" x2="1024" y2="985" stroke="#d01010" stroke-width="2.5" marker-end="url(#ar)"/>
<g stroke="#2a0a8a" stroke-width="2.5" marker-end="url(#an)">
<line x1="1030" y1="1192" x2="1030" y2="1233"/><line x1="1024" y1="1272" x2="1024" y2="1299"/><line x1="1140" y1="1320" x2="1114" y2="1320"/>
</g>

<!-- paracrine receptors -->
<text x="750" y="656" font-size="16" fill="#6a1aaa" text-anchor="middle">Intracellular</text>
<text x="750" y="677" font-size="16" fill="#6a1aaa" text-anchor="middle">Signal Activation</text>
<g transform="translate(882,716) rotate(90)"><use href="#cupG"/><rect x="-5" y="20" width="10" height="80" fill="#4aa81a" stroke="#2a6a0a"/></g>
<g transform="translate(882,746) rotate(90)"><use href="#cupG"/><rect x="-5" y="20" width="10" height="80" fill="#4aa81a" stroke="#2a6a0a"/></g>
<use href="#P" x="789" y="714"/><use href="#P" x="789" y="745"/>
<circle cx="889" cy="715" r="9" fill="url(#gBall)" stroke="#2a5a7a"/><circle cx="889" cy="745" r="9" fill="url(#gBall)" stroke="#2a5a7a"/>

<text x="750" y="841" font-size="20" text-anchor="middle">Nearby Cell</text>
<text x="1396" y="829" font-size="20" text-anchor="middle">Neighbor</text>
<text x="1396" y="857" font-size="20" text-anchor="middle">cell</text>
<text x="1134" y="868" font-size="18" fill="#4a1aaa" text-anchor="middle">Soluble</text>
<text x="1134" y="892" font-size="18" fill="#4a1aaa" text-anchor="middle">Ligand</text>

<!-- ligand cleavage -->
<rect x="989" y="903" width="80" height="47" fill="#fbe6e6" stroke="#c03030" stroke-width="1.5"/>
<text x="1029" y="922" font-size="16" fill="#3a1aaa" text-anchor="middle">Ligand</text>
<text x="1029" y="944" font-size="16" fill="#3a1aaa" text-anchor="middle">Cleavage</text>
<text x="942" y="960" font-size="18" fill="#d01010" text-anchor="middle">ADAM</text>
<polygon points="958,1000 970,995 981,1047 968,1052" fill="#d04890" stroke="#7a1a4a" stroke-width="1"/>
<path d="M968,980 A12,12 0 1 0 970,1000 L960,991 Z" fill="#e060a8" stroke="#8a2a5a" stroke-width="1"/>
<rect x="1042" y="985" width="10" height="58" fill="#90d0ec" stroke="#2a3ab0" stroke-width="1"/>
<circle cx="1047" cy="978" r="9" fill="url(#gBall)" stroke="#2a5a7a"/>
<text x="1102" y="1065" font-size="16" fill="#4a1aaa" text-anchor="middle">Proligand</text>
<rect x="1028" y="1133" width="10" height="45" fill="#90d0ec" stroke="#2a3ab0" stroke-width="1"/>
<text x="1097" y="1152" font-size="16" fill="#1a7a9a" text-anchor="middle">Cytoplasmic</text>
<text x="1097" y="1173" font-size="16" fill="#1a5a7a" text-anchor="middle">Tail</text>

<!-- GPCR -->
<text x="850" y="941" font-size="18" fill="#666" text-anchor="middle">GPCR</text>
<text x="850" y="962" font-size="18" fill="#555" text-anchor="middle">Ligand</text>
<circle cx="808" cy="983" r="10" fill="url(#gGray)" stroke="#3a3aaa"/>
<path d="M815,992 C830,985 800,1000 805,1030" fill="none" stroke="#a040a0" stroke-width="1"/>
<g fill="#c890e8" stroke="#8a3aa0" stroke-width="1">
<ellipse cx="823" cy="1055" rx="8" ry="52" transform="rotate(-18 823 1055)"/>
<ellipse cx="838" cy="1053" rx="8" ry="52" transform="rotate(-18 838 1053)"/>
<ellipse cx="853" cy="1051" rx="8" ry="52" transform="rotate(-18 853 1051)"/>
<ellipse cx="868" cy="1049" rx="8" ry="52" transform="rotate(-18 868 1049)"/>
<ellipse cx="883" cy="1047" rx="8" ry="52" transform="rotate(-18 883 1047)"/>
<ellipse cx="898" cy="1045" rx="8" ry="52" transform="rotate(-18 898 1045)"/>
<ellipse cx="912" cy="1045" rx="8" ry="52" transform="rotate(-18 912 1045)"/>
</g>
<ellipse cx="901" cy="1102" rx="11" ry="9" fill="#f4d8c0" stroke="#7a5a3a"/>
<ellipse cx="890" cy="1088" rx="10" ry="14" fill="#c8ecb0" stroke="#4a7a2a"/>
<circle cx="912" cy="1080" r="12" fill="url(#gGray)" stroke="#7a5a9a"/>
<text x="890" y="1094" font-size="14" text-anchor="middle" font-family="Liberation Serif, serif">β</text>
<text x="912" y="1085" font-size="14" text-anchor="middle" font-family="Liberation Serif, serif">α</text>
<text x="901" y="1107" font-size="11" text-anchor="middle" font-family="Liberation Serif, serif">γ</text>
<text x="773" y="1070" font-size="18" text-anchor="middle">GPCR</text>
<text x="931" y="1164" font-size="18" text-anchor="middle">Transactivation</text>
<text x="931" y="1189" font-size="18" text-anchor="middle">Signaling</text>

<!-- EGFR autocrine -->
<g transform="translate(1200,1000)"><use href="#cupG"/><rect x="-5" y="20" width="10" height="68" fill="#4aa81a" stroke="#2a6a0a"/></g>
<g transform="translate(1229,1000)"><use href="#cupG"/><rect x="-5" y="20" width="10" height="68" fill="#4aa81a" stroke="#2a6a0a"/></g>
<circle cx="1198" cy="993" r="9" fill="url(#gBall)" stroke="#2a5a7a"/><circle cx="1228" cy="993" r="9" fill="url(#gBall)" stroke="#2a5a7a"/>
<use href="#P" x="1199" y="1091"/><use href="#P" x="1229" y="1091"/>
<text x="1275" y="1093" font-size="18" fill="#2a8a2a" text-anchor="middle">EGFR</text>
<text x="1215" y="1196" font-size="16" fill="#7a1aaa" text-anchor="middle">Intracellular</text>
<text x="1215" y="1217" font-size="16" fill="#5a1a9a" text-anchor="middle">Signal Activation</text>
<rect x="1158" y="1232" width="109" height="100" fill="#fff" stroke="#222" stroke-width="1"/>
<g font-size="16"><text x="1170" y="1252">PI3K/AKT</text><text x="1170" y="1274">RAS/MAPK</text><text x="1170" y="1296">STATs</text><text x="1170" y="1319">PLC/PKC</text></g>
<text x="1012" y="1263" font-size="16" text-anchor="middle">Gene expression regulation</text>
<text x="1017" y="1325" font-size="16" fill="#e06a10" text-anchor="middle">Dual Modulation of</text>
<text x="1017" y="1345" font-size="16" fill="#8a3a0a" text-anchor="middle">Gene Expression</text>
<text x="838" y="1319" font-size="18" text-anchor="middle">Cytosol</text>
<text x="762" y="1377" font-size="18" text-anchor="middle">Extracellular</text>

<!-- juxtacrine -->
<text x="1480" y="895" font-size="16" fill="#6a1aaa" text-anchor="middle">Intracellular</text>
<text x="1480" y="916" font-size="16" fill="#6a1aaa" text-anchor="middle">Signal Activation</text>
<g transform="translate(1388,1050) rotate(-140)"><use href="#cupG"/><rect x="-5" y="20" width="10" height="72" fill="#4aa81a" stroke="#2a6a0a"/></g>
<g transform="translate(1408,1064) rotate(-140)"><use href="#cupG"/><rect x="-5" y="20" width="10" height="72" fill="#4aa81a" stroke="#2a6a0a"/></g>
<use href="#P" x="1437" y="983"/><use href="#P" x="1462" y="999"/>
<g transform="translate(1382,1082) rotate(40)"><rect x="-5" y="8" width="10" height="50" fill="#90d0ec" stroke="#2a3ab0"/></g>
<circle cx="1382" cy="1082" r="9" fill="url(#gBall)" stroke="#2a5a7a"/>
<g font-size="18" fill="#3a1aaa" text-anchor="middle"><text x="1328" y="1150">Membrane</text><text x="1328" y="1173">Anchored</text><text x="1328" y="1195">Ligand</text></g>
</svg>
</body></html>
